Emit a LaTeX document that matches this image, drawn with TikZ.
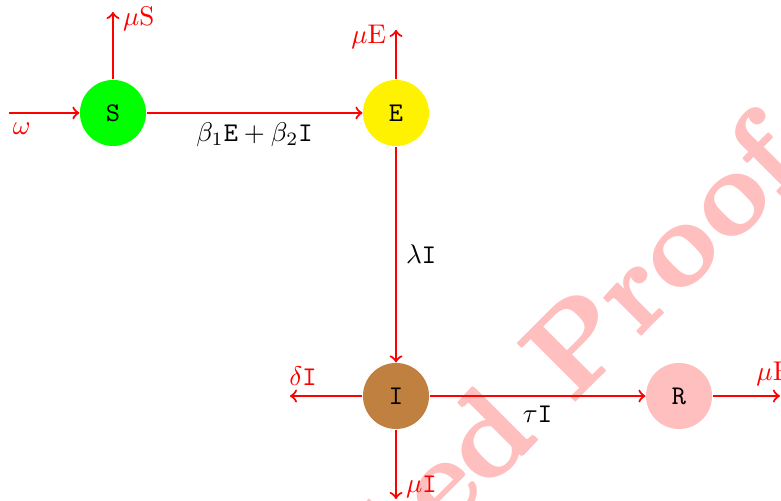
\documentclass[tikz,border=0pt]{standalone}
\usepackage{amsmath}
\usepackage{amssymb}
\usetikzlibrary{arrows}

\begin{document}
\begin{tikzpicture}[inner sep=0pt,
  comp/.style={circle, minimum size=0.86cm, inner sep=0pt, font=\ttfamily},
  flow/.style={->, red, thick},
  lab/.style={inner sep=3.33pt, text=red},
  mark text/.style={anchor=base east, rotate=45, scale=4.4, transform shape,
    text=pink, font=\bfseries}]
\def\u{3.685cm}
\useasboundingbox (-1.471, 1.471) rectangle (8.698, -5.052);
\clip (-1.471, 1.471) rectangle (8.698, -5.052);

% watermark, a little heavier by shifted copies
\foreach \a in {0,90,...,270}
  \node (wm\a) at ([shift={(\a:0.5pt)}] 9.06, -0.72) [mark text] {Uncorrected Proof};
\node (wm) at (9.06, -0.72) [mark text] {Uncorrected Proof};

\node (S) at (0, 0) [comp, fill=green] {S};
\node (E) at (1*\u, 0) [comp, fill=yellow] {E};
\node (I) at (1*\u, -1*\u) [comp, fill=brown] {I};
\node (R) at (2*\u, -1*\u) [comp, fill=pink] {R};

\coordinate (in) at (-1.354, 0);
\coordinate (dS) at (0, 1.315);
\coordinate (dE) at (1*\u, 1.081);
\coordinate (dI) at (1*\u, -5.026);
\coordinate (kI) at (2.305, -1*\u);
\coordinate (dR) at (8.684, -1*\u);

\draw [flow] (in) -- node [lab, pos=0.18, below] {$\omega$} (S);
\draw [flow] (S) -- node [lab, pos=0.9, right] {$\mu\mathrm{S}$} (dS);
\draw [flow] (E) -- node [lab, pos=0.85, left] {$\mu\mathrm{E}$} (dE);
\draw [flow] (S) -- node [lab, below, text=black] {$\beta_1\mathtt{E}+\beta_2\mathtt{I}$} (E);
\draw [flow] (E) -- node [lab, right, text=black] {$\lambda\mathtt{I}$} (I);
\draw [flow] (I) -- node [lab, below, text=black] {$\tau\mathtt{I}$} (R);
\draw [flow] (I) -- node [lab, pos=0.82, above] {$\delta\mathtt{I}$} (kI);
\draw [flow] (I) -- node [lab, pos=0.83, right] {$\mu\mathtt{I}$} (dI);
\draw [flow] (R) -- node [lab, pos=0.92, above] {$\mu\mathrm{R}$} (dR);
\end{tikzpicture}
\end{document}
